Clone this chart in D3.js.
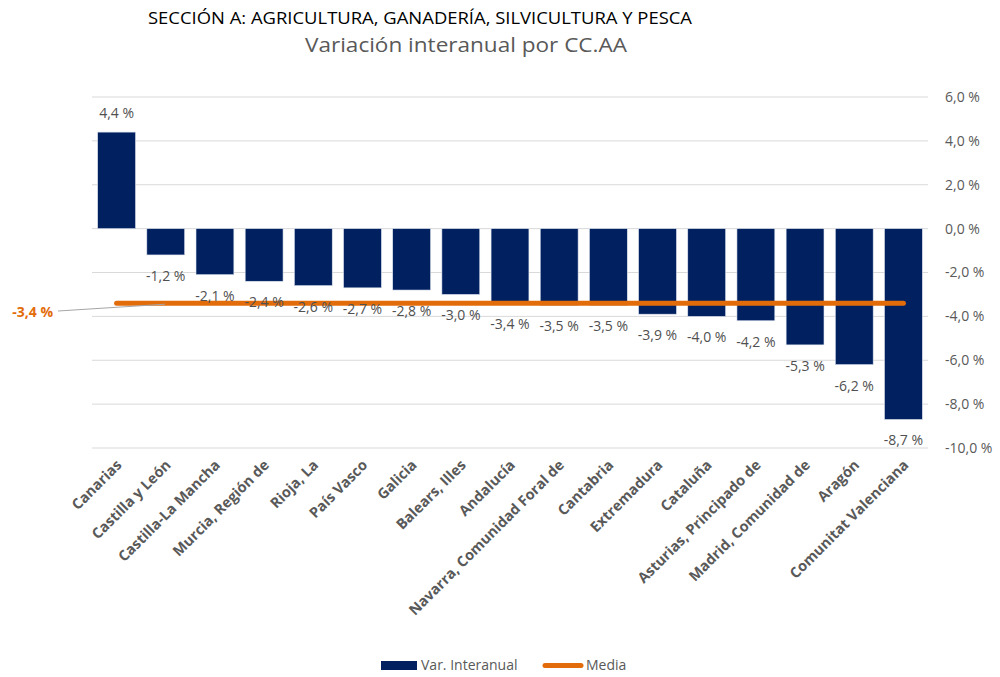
<html>
<head>
<script src="https://cdnjs.cloudflare.com/ajax/libs/d3/7.8.5/d3.min.js"></script>
<style>
  body { margin: 0; background: #fff; }
  text { font-family: "Open Sans", "DejaVu Sans", sans-serif; }
</style>
</head>
<body>
<svg width="1000" height="677"></svg>
<script>
const regions = ['Canarias', 'Castilla y León', 'Castilla-La Mancha', 'Murcia, Región de', 'Rioja, La', 'País Vasco',
  'Galicia', 'Balears, Illes', 'Andalucía', 'Navarra, Comunidad Foral de', 'Cantabria', 'Extremadura', 'Cataluña',
  'Asturias, Principado de', 'Madrid, Comunidad de', 'Aragón', 'Comunitat Valenciana']
const variation = [4.4, -1.2, -2.1, -2.4, -2.6, -2.7, -2.8, -3.0, -3.4, -3.5, -3.5, -3.9, -4.0, -4.2, -5.3, -6.2, -8.7]
const media = -3.4
const yTicks = [6, 4, 2, 0, -2, -4, -6, -8, -10]

const navy = '#002060'
const orange = '#E36C0A'
const grey = '#595959'
const fmt = v => (v < 0 ? '-' : '') + Math.abs(v).toFixed(1).replace('.', ',') + ' %'

const svg = d3.select('svg')
const x = d3.scaleBand().domain(regions).range([92, 928]).paddingInner(0.23).paddingOuter(0.115)
const y = d3.scaleLinear().domain([-10, 6]).range([448, 97])

// gridlines
svg.append('g').selectAll('line').data(yTicks).enter().append('line')
  .attr('x1', 92).attr('x2', 928)
  .attr('y1', d => y(d)).attr('y2', d => y(d))
  .attr('stroke', '#d9d9d9').attr('stroke-width', 1)

// right axis labels
const yAxis = d3.axisRight(y).tickValues(yTicks).tickSize(0).tickPadding(0).tickFormat(fmt)
svg.append('g').attr('transform', 'translate(945,0)').call(yAxis)
  .call(g => g.select('.domain').remove())
  .selectAll('text').attr('fill', grey).style('font-size', '14px').style('font-family', '"Open Sans", sans-serif')

// bars
svg.append('g').selectAll('rect').data(variation).enter().append('rect')
  .attr('x', (_, i) => x(regions[i]))
  .attr('width', x.bandwidth())
  .attr('y', d => y(Math.max(0, d)))
  .attr('height', d => Math.abs(y(d) - y(0)))
  .attr('fill', navy).attr('stroke', '#dde3ee').attr('stroke-width', 0.6)

// media line
svg.append('line')
  .attr('x1', x(regions[0]) + x.bandwidth() / 2)
  .attr('x2', x(regions[regions.length - 1]) + x.bandwidth() / 2)
  .attr('y1', y(media)).attr('y2', y(media))
  .attr('stroke', orange).attr('stroke-width', 5).attr('stroke-linecap', 'round')

// bar labels
svg.append('g').selectAll('text').data(variation).enter().append('text')
  .attr('x', (_, i) => x(regions[i]) + x.bandwidth() / 2)
  .attr('y', d => d >= 0 ? y(d) - 14 : y(d) + 26)
  .attr('text-anchor', 'middle').attr('fill', '#505050').style('font-size', '14px')
  .text(fmt)

// media label with leader
svg.append('line').attr('x1', 58).attr('y1', 311).attr('x2', 165).attr('y2', y(media) + 1)
  .attr('stroke', '#a6a6a6').attr('stroke-width', 1)
svg.append('text').attr('x', 53).attr('y', 317).attr('text-anchor', 'end')
  .attr('fill', orange).style('font-size', '14px').style('font-weight', 'bold')
  .text(fmt(media))

// category labels
svg.append('g').selectAll('text').data(regions).enter().append('text')
  .attr('transform', d => `translate(${x(d) + x.bandwidth() / 2 + 6},${466}) rotate(-45)`)
  .attr('text-anchor', 'end').attr('fill', grey)
  .style('font-size', '14.5px').style('font-weight', 'bold')
  .text(d => d)

// titles
svg.append('text').attr('x', 148).attr('y', 24)
  .attr('textLength', 544).attr('lengthAdjust', 'spacingAndGlyphs')
  .attr('fill', '#000').style('font-size', '17px')
  .text('SECCIÓN A: AGRICULTURA, GANADERÍA, SILVICULTURA Y PESCA')
svg.append('text').attr('x', 305).attr('y', 52)
  .attr('textLength', 322).attr('lengthAdjust', 'spacingAndGlyphs')
  .attr('fill', grey).style('font-size', '20px')
  .text('Variación interanual por CC.AA')

// legend
const legend = svg.append('g')
legend.append('rect').attr('x', 381).attr('y', 661).attr('width', 36).attr('height', 9).attr('fill', navy)
legend.append('text').attr('x', 421).attr('y', 670).attr('fill', grey).style('font-size', '14px').text('Var. Interanual')
legend.append('line').attr('x1', 545).attr('x2', 581).attr('y1', 665.5).attr('y2', 665.5)
  .attr('stroke', orange).attr('stroke-width', 5).attr('stroke-linecap', 'round')
legend.append('text').attr('x', 586).attr('y', 670).attr('fill', grey).style('font-size', '14px').text('Media')
</script>
</body>
</html>
